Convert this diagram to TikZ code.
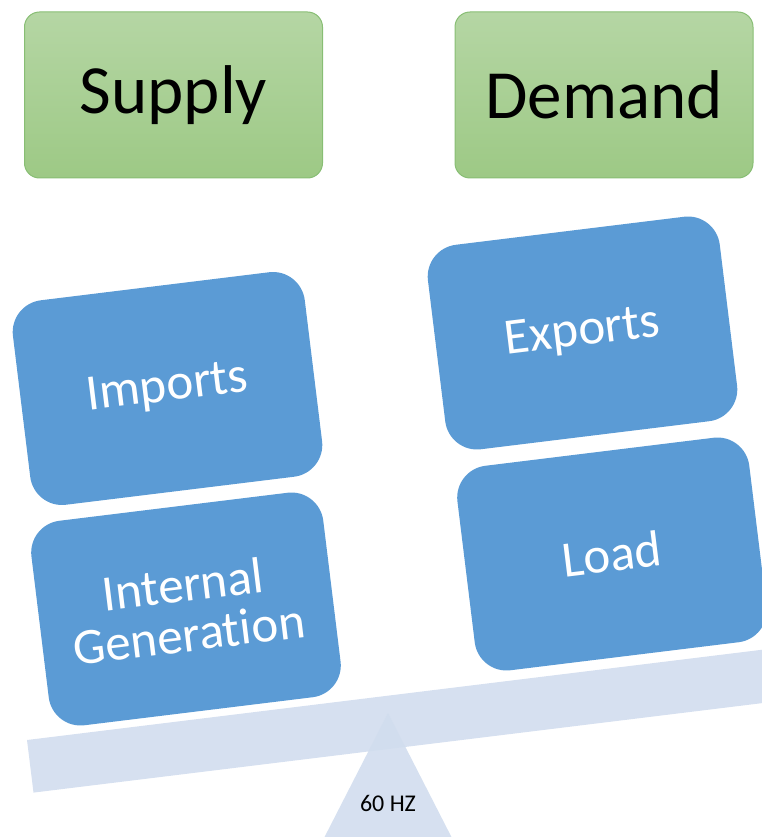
\documentclass[tikz,border=0pt]{standalone}
\usepackage{fontspec}
\setmainfont[Ligatures={NoCommon}]{Carlito}
\definecolor{boxblue}{HTML}{5B9BD5}
\definecolor{beamblue}{HTML}{D6E0F0}
\definecolor{pivotblue}{HTML}{D1DDEE}
\definecolor{greentop}{HTML}{B5D6A4}
\definecolor{greenbot}{HTML}{9DC985}
\definecolor{greenline}{HTML}{88BE74}
\begin{document}
\begin{tikzpicture}[x=1pt,y=1pt,
  greenbox/.style={draw=greenline, line width=1pt, top color=greentop, bottom color=greenbot,
    rounded corners=15pt, minimum width=298pt, minimum height=166pt, inner sep=0pt,
    font=\fontsize{69}{80}\selectfont},
  bluebox/.style={fill=boxblue, rotate=7, rounded corners=32pt, minimum width=294pt,
    minimum height=206pt, inner sep=0pt, text=white, align=center,
    font=\fontsize{51}{50}\selectfont},
  beam/.style={fill=beamblue},
  pivot/.style={fill=pivotblue, fill opacity=0.9},
  hzlabel/.style={font=\fontsize{24}{28}\selectfont, text=black}
]
\useasboundingbox (0,0) rectangle (762,-837);
\clip (0,0) rectangle (762,-837);

% balance beam and pivot
\fill[beam] (27,-740) -- (790,-646.3) -- (796.5,-698.9) -- (33.5,-792.6) -- cycle;
\fill[pivot] (388,-713) -- (453,-840) -- (323,-840) -- cycle;
\node[hzlabel] (hz) at (388,-803) {60 HZ};

% headers
\node[greenbox] (supply) at (173.5,-95) {Supply};
\node[greenbox] (demand) at (604,-95) {Demand};

% supply side
\node[bluebox] (imports) at (167.5,-388.5) {Imports};
\node[bluebox] (internal) at (186,-609) {Internal\\Generation};

% demand side
\node[bluebox] (exports) at (582.5,-333) {Exports};
\node[bluebox] (load) at (612,-554) {Load};
\end{tikzpicture}
\end{document}
